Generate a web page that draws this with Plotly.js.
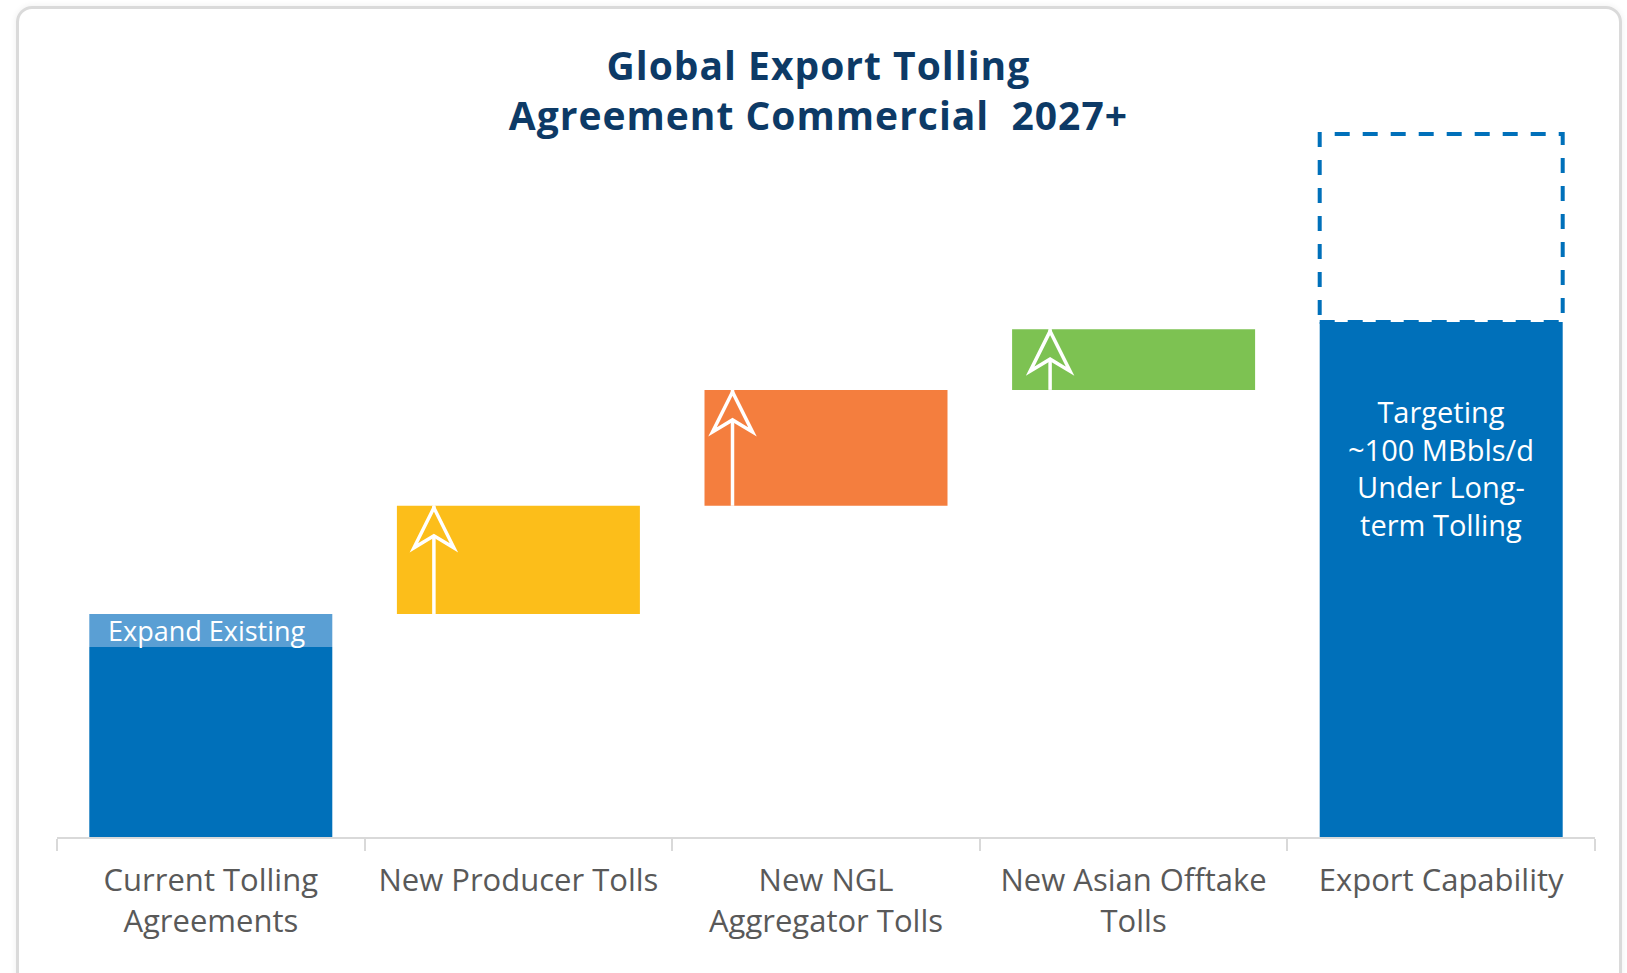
<!DOCTYPE html>
<html><head><meta charset="utf-8">
<script src="https://cdn.plot.ly/plotly-3.0.1.min.js"></script>
<style>
html,body{margin:0;padding:0;background:#fff;overflow:hidden;}
#chart{position:absolute;left:0;top:0;width:1627px;height:973px;}
#frame{position:absolute;left:16px;top:6px;width:1600px;height:1000px;border:3px solid #dadada;border-radius:16px;box-shadow:0 0 6px rgba(0,0,0,0.07);pointer-events:none;}
.gtitle{letter-spacing:1px;}
</style></head><body>
<div id="chart"></div><div id="frame"></div>
<script>
// ---- data ----
const categories = ["Current Tolling<br>Agreements", "New Producer Tolls", "New NGL<br>Aggregator Tolls", "New Asian Offtake<br>Tolls", "Export Capability"];
const currentTolling = 36.9;
const expandExisting = 6.4;
const stepNames = ["New Producer Tolls", "New NGL Aggregator Tolls", "New Asian Offtake Tolls"];
const stepValues = [21.0, 22.5, 11.8];
const exportCapability = 100;
const exportUpside = 36.5;
const expandLabel = "Expand Existing";
const targetLabel = "Targeting<br>~100 MBbls/d<br>Under Long-<br>term Tolling";

// ---- styles ----
const BLUE = "#0070BA", LIGHTBLUE = "#5A9FD4";
const stepColors = ["#FCBE1A", "#F47E3E", "#7DC252"];
const BW = 0.79;
const arrowOffsetPx = [37, 28, 38];
const FONT = "Open Sans, Noto Sans, sans-serif";

// bases of the floating steps
const stepBases = [];
let run = currentTolling + expandExisting;
stepValues.forEach(v => { stepBases.push(run); run += v; });

const traces = [];
traces.push({type: "bar", x: [categories[0]], y: [currentTolling], base: [0], width: BW,
  marker: {color: BLUE}, hoverinfo: "skip", name: "Current"});
traces.push({type: "bar", x: [categories[0]], y: [expandExisting], base: [currentTolling], width: BW,
  marker: {color: LIGHTBLUE}, hoverinfo: "skip", name: "Expand"});
stepValues.forEach((v, i) => {
  traces.push({type: "bar", x: [categories[i + 1]], y: [v], base: [stepBases[i]], width: BW,
    marker: {color: stepColors[i]}, hoverinfo: "skip", name: stepNames[i]});
});
traces.push({type: "bar", x: [categories[4]], y: [exportCapability], base: [0], width: BW,
  marker: {color: BLUE}, hoverinfo: "skip", name: "Export"});

const shapes = [];
// dashed upside box
shapes.push({type: "rect", xref: "x", yref: "y", x0: 4 - BW / 2, x1: 4 + BW / 2,
  y0: exportCapability, y1: exportCapability + exportUpside,
  line: {color: BLUE, width: 4, dash: "15px,13px"}, fillcolor: "rgba(0,0,0,0)"});
// arrows
stepValues.forEach((v, i) => {
  const left = (i + 1) - BW / 2;
  const off = arrowOffsetPx[i];
  const top = stepBases[i] + v;
  shapes.push({type: "line", xref: "x", yref: "y", xsizemode: "pixel", xanchor: left,
    x0: off, x1: off, y0: stepBases[i], y1: top, line: {color: "#fff", width: 3.5}});
  shapes.push({type: "path", xref: "x", yref: "y", xsizemode: "pixel", ysizemode: "pixel",
    xanchor: left, yanchor: top,
    path: `M${off},-2 L${off - 20},-42 L${off},-30 L${off + 20},-42 Z`,
    fillcolor: stepColors[i], line: {color: "#fff", width: 3.5}});
});

const annotations = [
  {x: 0, y: currentTolling + expandExisting / 2, xref: "x", yref: "y", text: expandLabel,
   xshift: -4, showarrow: false, font: {family: FONT, size: 27, color: "#fff"}},
  {x: 4, y: 71.6, xref: "x", yref: "y", text: targetLabel, showarrow: false,
   font: {family: FONT, size: 29, color: "#fff"}}
];

const layout = {
  width: 1627, height: 973,
  margin: {l: 57, r: 32, t: 120, b: 136},
  paper_bgcolor: "rgba(0,0,0,0)", plot_bgcolor: "rgba(0,0,0,0)",
  showlegend: false, barmode: "overlay",
  title: {text: "Global Export Tolling<br>Agreement Commercial \u00a02027+",
    x: 0.503, xanchor: "center", xref: "container", y: 0.918, yanchor: "top", yref: "container",
    font: {family: FONT, size: 39, color: "#0D3A66", weight: 700}},
  xaxis: {type: "category", range: [-0.5, 4.5],
    tickson: "boundaries", ticks: "outside", ticklen: 12, tickwidth: 2, tickcolor: "#d9d9d9",
    showline: true, linecolor: "#d9d9d9", linewidth: 2, showgrid: false, zeroline: false,
    ticklabelstandoff: 15,
    tickfont: {family: FONT, size: 31, color: "#595959"}, fixedrange: true},
  yaxis: {range: [0, 139.2], visible: false, fixedrange: true},
  shapes: shapes, annotations: annotations
};

Plotly.newPlot("chart", traces, layout, {displayModeBar: false, staticPlot: true});
</script>
</body></html>
